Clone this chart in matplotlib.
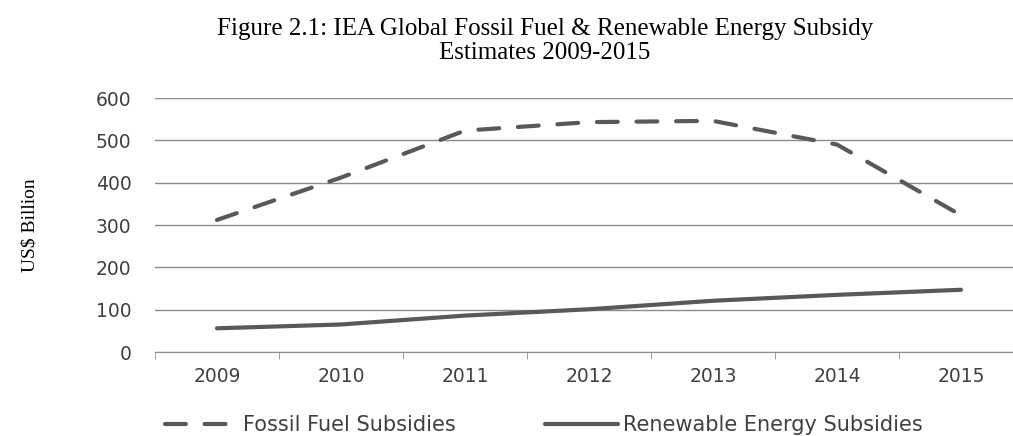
import matplotlib.pyplot as plt
from matplotlib.lines import Line2D

years = ["2009", "2010", "2011", "2012", "2013", "2014", "2015"]
fossil = [312, 412, 523, 543, 546, 490, 323]
renewable = [56, 65, 86, 101, 121, 135, 147]

fig = plt.figure(figsize=(10.13, 4.36), dpi=100)
# axes spans past the right edge like the cropped original
ax = fig.add_axes([155 / 1013, 1 - 352 / 436, 868 / 1013, 254 / 436])

x = list(range(len(years)))
line_col = "#595959"
dash = (5, 4.5)
ax.plot(x, fossil, color=line_col, lw=3, dashes=dash, dash_capstyle="round",
        label="Fossil Fuel Subsidies")
ax.plot(x, renewable, color=line_col, lw=3, solid_capstyle="round",
        label="Renewable Energy Subsidies")

ax.set_xlim(-0.5, 6.5)
ax.set_ylim(0, 600)
ax.set_yticks(range(0, 601, 100))
ax.set_xticks(x)
ax.set_xticklabels(years)
ax.yaxis.grid(True, color="#8c8c8c", lw=1)
ax.set_axisbelow(True)
for s in ["top", "right", "left"]:
    ax.spines[s].set_visible(False)
ax.spines["bottom"].set_color("#8c8c8c")
ax.set_xticks([i - 0.5 for i in range(8)], minor=True)
ax.tick_params(axis="x", which="major", length=0, pad=11, labelsize=13.5, labelcolor="#404040")
ax.tick_params(axis="x", which="minor", length=5, color="#8c8c8c")
ax.tick_params(axis="y", length=0, pad=17, labelsize=13.5, labelcolor="#404040")

fig.text(0.538, 1 - 29 / 436, "Figure 2.1: IEA Global Fossil Fuel & Renewable Energy Subsidy",
         ha="center", va="center", family="Liberation Serif", fontsize=18)
fig.text(0.538, 1 - 53 / 436, "Estimates 2009-2015",
         ha="center", va="center", family="Liberation Serif", fontsize=18)
fig.text(0.03, 1 - 225 / 436, "US$ Billion", rotation=90, ha="center", va="center",
         family="Liberation Serif", fontsize=14)

handles = [Line2D([], [], color=line_col, lw=3, dashes=dash, dash_capstyle="round"),
           Line2D([], [], color=line_col, lw=3, solid_capstyle="round")]
fig.legend(handles, ["Fossil Fuel Subsidies", "Renewable Energy Subsidies"],
           loc="center", bbox_to_anchor=(0.537, 1 - 425 / 436), ncol=2, frameon=False,
           handlelength=3.5, handletextpad=0.25, columnspacing=4.3,
           prop={"size": 15}, labelcolor="#404040")

fig.savefig("out.png", dpi=100)
